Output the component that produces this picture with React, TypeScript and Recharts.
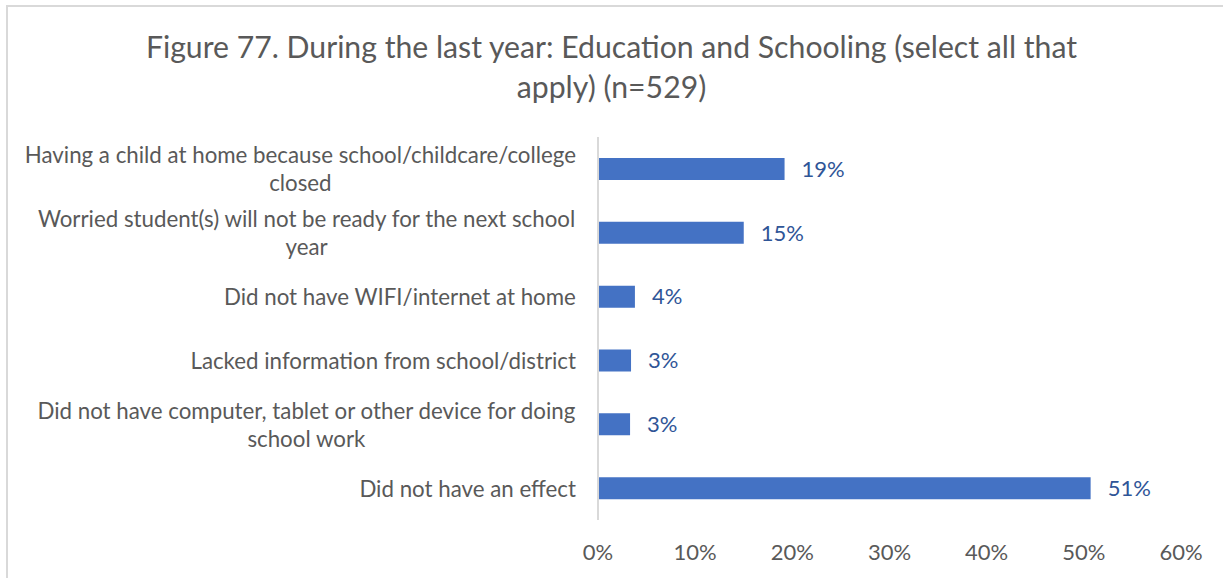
import React from "react";
import { BarChart, Bar, XAxis, YAxis, LabelList } from "recharts";

const titleLines = [
  "Figure 77. During the last year: Education and Schooling (select all that",
  "apply) (n=529)",
];

const categories = [
  "Having a child at home because school/childcare/college\nclosed",
  "Worried student(s) will not be ready for the next school\nyear",
  "Did not have WIFI/internet at home",
  "Lacked information from school/district",
  "Did not have computer, tablet or other device for doing\nschool work",
  "Did not have an effect",
];

const values = [19.2, 15.0, 3.8, 3.4, 3.3, 50.7];

const xTicks = [0, 10, 20, 30, 40, 50, 60];

const data = categories.map((c, i) => ({ name: c, value: values[i] }));

const FONT = "Lato, 'Open Sans', sans-serif";
const LABEL_SIZE = 22.3;
const NUM_SIZE = 22;
const GRAY = "#595959";

let ctx: CanvasRenderingContext2D | null = null;
function measure(text: string, size: number): number {
  if (!ctx) {
    const c = document.createElement("canvas");
    ctx = c.getContext("2d");
  }
  if (!ctx) return text.length * size * 0.5;
  ctx.font = `${size}px Lato`;
  return ctx.measureText(text).width;
}

const YTick = (props: any) => {
  const { x, y, payload } = props;
  const lines: string[] = String(payload.value).split("\n");
  const widths = lines.map((l) => measure(l, LABEL_SIZE));
  const maxW = Math.max(...widths);
  const cx = x - maxW / 2;
  const lh = 28;
  return (
    <g>
      {lines.map((l, i) => (
        <text
          key={i}
          x={cx}
          y={y + (i - (lines.length - 1) / 2) * lh}
          textAnchor="middle"
          dominantBaseline="central"
          fill={GRAY}
          fontSize={LABEL_SIZE}
          fontFamily={FONT}
        >
          {l}
        </text>
      ))}
    </g>
  );
};

const XTick = (props: any) => {
  const { x, y, payload } = props;
  return (
    <text
      x={x}
      y={y + 31}
      textAnchor="middle"
      dominantBaseline="central"
      fill={GRAY}
      fontSize={NUM_SIZE}
      fontFamily={FONT}
    >
      {`${payload.value}%`}
    </text>
  );
};

export default function App() {
  return (
    <div
      style={{
        position: "absolute",
        left: 0,
        top: 0,
        width: 1223,
        height: 578,
        background: "#fff",
        overflow: "hidden",
      }}
    >
      <div
        style={{
          position: "absolute",
          left: 6,
          top: 5,
          width: 1217,
          height: 573,
          borderTop: "2px solid #D9D9D9",
          borderLeft: "2px solid #D9D9D9",
          boxSizing: "border-box",
        }}
      />
      {titleLines.map((t, i) => (
        <div
          key={i}
          style={{
            position: "absolute",
            left: 0,
            width: 1223,
            top: 46 + i * 40 - 18,
            height: 36,
            lineHeight: "36px",
            textAlign: "center",
            fontFamily: FONT,
            fontSize: 30.2,
            color: GRAY,
            whiteSpace: "nowrap",
          }}
        >
          {t}
        </div>
      ))}
      <div style={{ position: "absolute", left: 0, top: 0 }}>
        <BarChart
          width={1223}
          height={578}
          data={data}
          layout="vertical"
          margin={{ top: 137, right: 42, bottom: 18, left: 8 }}
          barSize={22}
        >
          <XAxis
            type="number"
            domain={[0, 60]}
            ticks={xTicks}
            axisLine={false}
            tickLine={false}
            tickSize={0}
            tickMargin={0}
            height={40}
            tick={<XTick />}
            interval={0}
          />
          <YAxis
            type="category"
            dataKey="name"
            width={590}
            axisLine={{ stroke: "#D9D9D9", strokeWidth: 2 }}
            tickLine={false}
            tickSize={0}
            tickMargin={22}
            tick={<YTick />}
            interval={0}
          />
          <Bar dataKey="value" fill="#4472C4" isAnimationActive={false}>
            <LabelList
              dataKey="value"
              position="right"
              offset={17}
              formatter={(v: any) => `${Math.round(Number(v))}%`}
              fill="#2F5597"
              fontSize={NUM_SIZE}
              fontFamily={FONT}
            />
          </Bar>
        </BarChart>
      </div>
    </div>
  );
}
